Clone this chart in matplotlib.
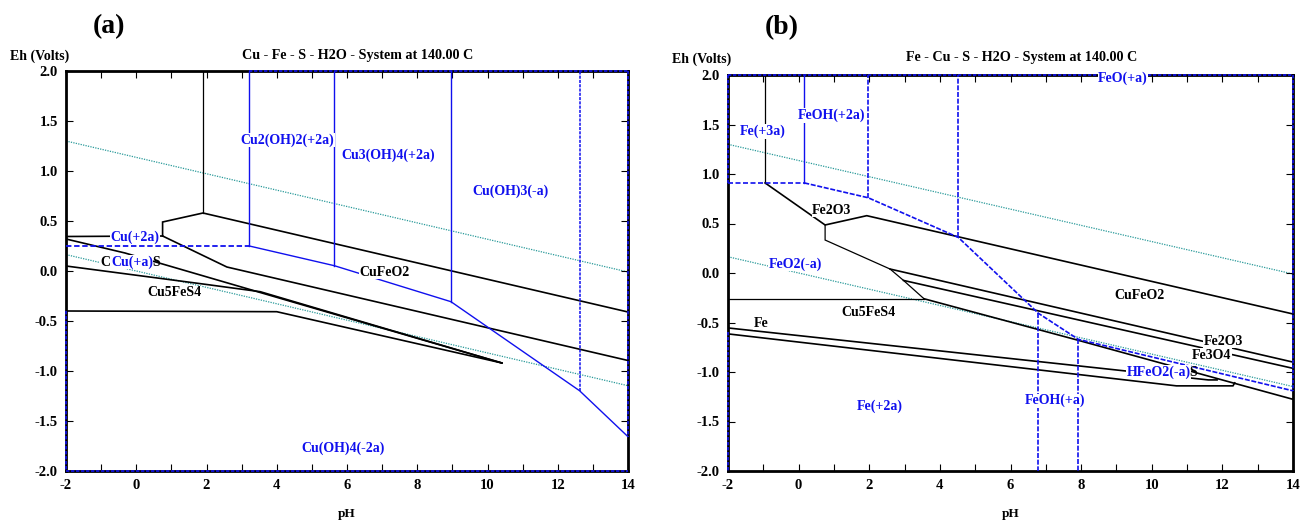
import matplotlib
matplotlib.use("Agg")
import matplotlib.pyplot as plt
from matplotlib.ticker import MultipleLocator

plt.rcParams['font.family'] = ['Liberation Serif', 'DejaVu Serif']
plt.rcParams['font.weight'] = 'bold'
plt.rcParams['axes.unicode_minus'] = False

# ---------------- common ----------------
PH_RANGE = [-2, 14]
EH_RANGE = [-2.0, 2.0]
WATER_UP_PH = [-2, 14]
WATER_UP_EH = [1.30, -0.01]
WATER_LO_PH = [-2, 14]
WATER_LO_EH = [0.164, -1.147]
X_TICKS = [-2, 0, 2, 4, 6, 8, 10, 12, 14]
X_TICK_LABELS = ["-2", "0", "2", "4", "6", "8", "10", "12", "14"]
Y_TICKS = [2.0, 1.5, 1.0, 0.5, 0.0, -0.5, -1.0, -1.5, -2.0]
Y_TICK_LABELS = ["2.0", "1.5", "1.0", "0.5", "0.0", "-0.5", "-1.0", "-1.5", "-2.0"]

# ---------------- panel (a): Cu - Fe - S - H2O ----------------
A_TITLE = "Cu - Fe - S - H2O - System at 140.00 C"
# black boundaries (pH list, Eh list)
a_k_vert_ph, a_k_vert_eh = [1.9, 1.9], [2.0, 0.58]
a_k_top_ph, a_k_top_eh = [0.75, 0.75, 1.9, 14], [0.35, 0.49, 0.58, -0.41]
a_k_mid_ph, a_k_mid_eh = [0.75, 2.58, 14], [0.35, 0.04, -0.895]
a_k_cu2_ph, a_k_cu2_eh = [-2, 0.75], [0.345, 0.35]
a_k_cus_ph, a_k_cus_eh = [-2, -0.32, 0.68, 10.41], [0.32, 0.18, 0.077, -0.92]
a_k_fes_ph, a_k_fes_eh = [-2, 1.9, 3.53, 10.41], [0.05, -0.13, -0.207, -0.92]
a_k_low_ph, a_k_low_eh = [-2, 4.0, 10.41], [-0.40, -0.407, -0.92]
# blue (aqueous) boundaries
a_b_h_ph, a_b_h_eh = [-2, 3.22], [0.25, 0.25]
a_b_chain_ph = [3.22, 5.64, 8.96, 12.62, 14]
a_b_chain_eh = [0.25, 0.053, -0.307, -1.197, -1.657]
a_b_vert_ph = [3.22, 5.64, 8.96]
a_b_vert_eh = [0.25, 0.053, -0.307]
a_b_dvert_ph, a_b_dvert_eh = [12.62, 12.62], [-1.197, 2.0]
# labels: text, pH, Eh, colour
a_lab_text = ["Cu2(OH)2(+2a)", "Cu3(OH)4(+2a)", "Cu(OH)3(-a)", "Cu(+2a)",
              "CuFeO2", "Cu5FeS4", "Cu(OH)4(-2a)"]
a_lab_ph = [4.3, 7.17, 10.66, -0.04, 7.08, 1.08, 5.9]
a_lab_eh = [1.31, 1.153, 0.793, 0.34, -0.013, -0.22, -1.773]
a_lab_col = ["blue", "blue", "blue", "blue", "black", "black", "blue"]

# ---------------- panel (b): Fe - Cu - S - H2O ----------------
B_TITLE = "Fe - Cu - S - H2O - System at 140.00 C"
b_k_vert_ph, b_k_vert_eh = [-0.95, -0.95], [2.0, 0.91]
b_k_a_ph, b_k_a_eh = [-0.95, 0.75, 1.93, 14], [0.91, 0.485, 0.579, -0.414]
b_k_b_ph, b_k_b_eh = [0.75, 0.75, 2.59, 2.97, 3.55], [0.485, 0.333, 0.04, -0.075, -0.26]
b_k_c_ph, b_k_c_eh = [2.59, 14], [0.04, -0.90]
b_k_d_ph, b_k_d_eh = [2.97, 14], [-0.075, -0.963]
b_k_e_ph, b_k_e_eh = [-2, 3.55], [-0.26, -0.26]
b_k_f_ph, b_k_f_eh = [3.55, 7.92, 12.3, 14], [-0.26, -0.68, -1.11, -1.276]
b_k_fe1_ph, b_k_fe1_eh = [-2, 11.6, 11.85], [-0.555, -1.08, -1.08]
b_k_fe2_ph, b_k_fe2_eh = [-2, 10.7, 12.3, 12.35], [-0.615, -1.14, -1.14, -1.11]
b_b_h_ph, b_b_h_eh = [-2, 0.16], [0.91, 0.91]
b_b_chain_ph = [0.16, 1.97, 4.52, 6.79, 7.92, 14]
b_b_chain_eh = [0.91, 0.76, 0.36, -0.407, -0.67, -1.19]
b_b_up_ph = [1.97, 4.52]
b_b_up_eh = [0.76, 0.36]
b_b_down_ph = [6.79, 7.92]
b_b_down_eh = [-0.407, -0.67]
b_b_solid_ph, b_b_solid_eh = [0.16, 0.16], [0.91, 2.0]
b_lab_text = ["Fe(+3a)", "FeOH(+2a)", "FeO(+a)", "Fe2O3", "FeO2(-a)", "Cu5FeS4",
              "Fe", "Fe(+2a)", "CuFeO2", "Fe2O3", "Fe3O4", "FeOH(+a)"]
b_lab_ph = [-1.02, 0.94, 9.19, 0.94, -0.09, 1.99, -1.07, 2.3, 9.65, 12.03, 11.7, 7.27]
b_lab_eh = [1.43, 1.59, 1.97, 0.636, 0.09, -0.40, -0.51, -1.35, -0.23, -0.69, -0.83, -1.29]
b_lab_col = ["blue", "blue", "blue", "black", "blue", "black",
             "black", "blue", "black", "black", "black", "blue"]

BLUE = "#1010ee"
TEAL = "#2a9a9a"
LBL_FS = 10

fig = plt.figure(figsize=(13.01, 5.20), dpi=100)
axA = fig.add_axes([66 / 1301, 49 / 520, 562 / 1301, 400 / 520])
axB = fig.add_axes([728 / 1301, 49 / 520, 565 / 1301, 396 / 520])


def style(ax):
    ax.set_xlim(PH_RANGE)
    ax.set_ylim(EH_RANGE)
    ax.set_xticks(X_TICKS)
    ax.set_xticklabels(X_TICK_LABELS)
    ax.set_yticks(Y_TICKS)
    ax.set_yticklabels(Y_TICK_LABELS)
    ax.xaxis.set_minor_locator(MultipleLocator(1))
    ax.tick_params(which='both', direction='in', top=True, right=True,
                   labelsize=10.5, width=0.8)
    ax.tick_params(which='major', length=5, pad=6)
    ax.tick_params(which='minor', length=5)
    for s in ax.spines.values():
        s.set_linewidth(2.0)
    for lab in ax.get_xticklabels() + ax.get_yticklabels():
        lab.set_fontweight('bold')
    ax.set_xlabel("pH", fontsize=9.5, fontweight='bold', labelpad=11)
    ax.plot(WATER_UP_PH, WATER_UP_EH, ls=(0, (1, 1)), color=TEAL, lw=0.9, zorder=1)
    ax.plot(WATER_LO_PH, WATER_LO_EH, ls=(0, (1, 1)), color=TEAL, lw=0.9, zorder=1)


def blk(ax, ph, eh, lw=1.2):
    ax.plot(ph, eh, color='black', lw=lw, zorder=2, solid_joinstyle='miter')


def blu(ax, ph, eh, ls='-', lw=1.0, clip=True):
    ax.plot(ph, eh, color=BLUE, lw=lw, ls=ls, zorder=3, clip_on=clip)


def label(ax, txt, x, y, col):
    ax.text(x, y, txt, color=col, fontsize=LBL_FS, fontweight='bold',
            ha='center', va='center', zorder=5,
            bbox=dict(facecolor='white', edgecolor='none', pad=0.3))


# ---------- panel (a) ----------
style(axA)
blk(axA, a_k_vert_ph, a_k_vert_eh, lw=0.9)
blk(axA, a_k_top_ph, a_k_top_eh)
blk(axA, a_k_mid_ph, a_k_mid_eh)
blk(axA, a_k_cu2_ph, a_k_cu2_eh)
blk(axA, a_k_cus_ph, a_k_cus_eh)
blk(axA, a_k_fes_ph, a_k_fes_eh)
blk(axA, a_k_low_ph, a_k_low_eh)
blu(axA, a_b_h_ph, a_b_h_eh, ls=(0, (3, 1.5)), lw=1.3)
blu(axA, a_b_chain_ph, a_b_chain_eh)
for p, e in zip(a_b_vert_ph, a_b_vert_eh):
    blu(axA, [p, p], [e, EH_RANGE[1]])
blu(axA, a_b_dvert_ph, a_b_dvert_eh, ls=(0, (2, 0.8)), lw=1.1)
# blue stability-field edges along the frame
blu(axA, [3.22, 14], [2.0, 2.0], ls=(0, (2, 1)), lw=1.2, clip=False)
blu(axA, [14, 14], [2.0, -1.657], ls=(0, (2, 1)), lw=1.2, clip=False)
blu(axA, [-2, -2], [-0.4, -2.0], ls=(0, (2, 1)), lw=1.2, clip=False)
blu(axA, [-2, 14], [-2.0, -2.0], ls=(0, (2, 1)), lw=1.2, clip=False)
for t, x, y, c in zip(a_lab_text, a_lab_ph, a_lab_eh, a_lab_col):
    label(axA, t, x, y, BLUE if c == "blue" else c)
# composite label "CCu(+a)S"
axA.text(-0.73, 0.09, "C", color='black', fontsize=LBL_FS, fontweight='bold',
         ha='right', va='center', zorder=7,
         bbox=dict(facecolor='white', edgecolor='none', pad=0.3))
axA.text(-0.72, 0.09, "Cu(+a)", color=BLUE, fontsize=LBL_FS, fontweight='bold',
         ha='left', va='center', zorder=6,
         bbox=dict(facecolor='white', edgecolor='none', pad=0.0))
axA.text(0.47, 0.09, "S", color='black', fontsize=LBL_FS, fontweight='bold',
         ha='left', va='center', zorder=6)

# ---------- panel (b) ----------
style(axB)
blk(axB, b_k_vert_ph, b_k_vert_eh, lw=0.9)
blk(axB, b_k_a_ph, b_k_a_eh)
blk(axB, b_k_b_ph, b_k_b_eh, lw=0.9)
blk(axB, b_k_c_ph, b_k_c_eh)
blk(axB, b_k_d_ph, b_k_d_eh)
blk(axB, b_k_e_ph, b_k_e_eh, lw=0.9)
blk(axB, b_k_f_ph, b_k_f_eh)
blk(axB, b_k_fe1_ph, b_k_fe1_eh)
blk(axB, b_k_fe2_ph, b_k_fe2_eh)
blu(axB, b_b_h_ph, b_b_h_eh, ls=(0, (3, 1.5)), lw=1.2)
blu(axB, b_b_chain_ph, b_b_chain_eh, ls=(0, (3, 1)), lw=1.2)
blu(axB, b_b_solid_ph, b_b_solid_eh)
for p, e in zip(b_b_up_ph, b_b_up_eh):
    blu(axB, [p, p], [e, EH_RANGE[1]], ls=(0, (3, 1)), lw=1.2)
for p, e in zip(b_b_down_ph, b_b_down_eh):
    blu(axB, [p, p], [e, EH_RANGE[0]], ls=(0, (3, 1)), lw=1.2)
blu(axB, [-2, 14], [2.0, 2.0], ls=(0, (2, 1)), lw=1.2, clip=False)
blu(axB, [-2, -2], [2.0, 0.91], ls=(0, (2, 1)), lw=1.2, clip=False)
blu(axB, [-2, -2], [-0.6, -2.0], ls=(0, (2, 1)), lw=1.2, clip=False)
blu(axB, [14, 14], [2.0, -1.19], ls=(0, (2, 1)), lw=1.2, clip=False)
for t, x, y, c in zip(b_lab_text, b_lab_ph, b_lab_eh, b_lab_col):
    label(axB, t, x, y, BLUE if c == "blue" else c)
axB.text(11.1, -1.0, "HFeO2(-a)", color=BLUE, fontsize=LBL_FS, fontweight='bold',
         ha='right', va='center', zorder=6,
         bbox=dict(facecolor='white', edgecolor='none', pad=0.0))
axB.text(11.05, -1.0, "S", color='black', fontsize=LBL_FS, fontweight='bold',
         ha='left', va='center', zorder=6)

# ---------- outer texts ----------
for ax, title, tx, ty, ex, ey, px, py, tag in [
        (axA, A_TITLE, 358, 55, 40, 56, 109, 27, "(a)"),
        (axB, B_TITLE, 1022, 58, 702, 59, 782, 28, "(b)")]:
    fig.text(tx / 1301, 1 - ty / 520, title, fontsize=10.2, fontweight='bold',
             ha='center', va='center')
    fig.text(ex / 1301, 1 - ey / 520, "Eh (Volts)", fontsize=10, fontweight='bold',
             ha='center', va='center')
    fig.text(px / 1301, 1 - py / 520, tag, fontsize=20,
             fontweight='bold', ha='center', va='center')

fig.savefig("out.png", dpi=100)
